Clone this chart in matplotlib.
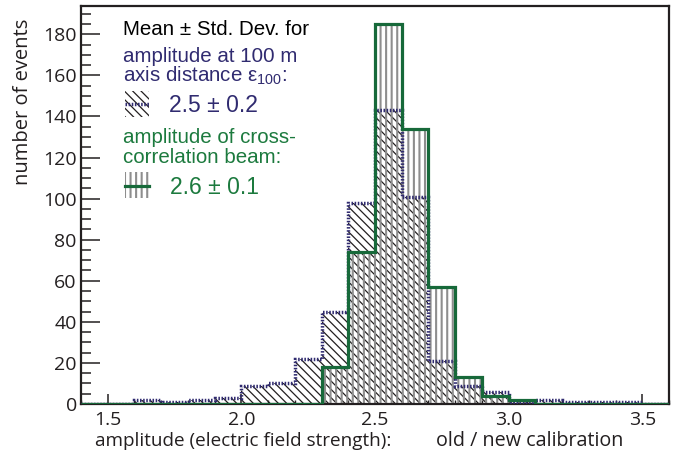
import matplotlib
matplotlib.use("Agg")
import matplotlib.pyplot as plt
from matplotlib.patches import Rectangle
from matplotlib.lines import Line2D
from matplotlib.ticker import MultipleLocator

# bin edges (width 0.1) and counts
bin_edges = [1.4, 1.5, 1.6, 1.7, 1.8, 1.9, 2.0, 2.1, 2.2, 2.3, 2.4, 2.5,
             2.6, 2.7, 2.8, 2.9, 3.0, 3.1, 3.2, 3.3, 3.4, 3.5, 3.6]
counts_eps100 = [0, 0, 2, 1, 2, 3, 9, 10, 22, 45, 98, 143,
                 101, 21, 9, 6, 1, 2, 1, 1, 1, 0]
counts_beam = [0, 0, 0, 0, 0, 0, 0, 0, 0, 18, 74, 185,
               134, 57, 13, 4, 2, 0, 0, 0, 0, 0]
xtick_vals = [1.5, 2.0, 2.5, 3.0, 3.5]
xtick_labels = ["1.5", "2.0", "2.5", "3.0", "3.5"]
ytick_vals = [0, 20, 40, 60, 80, 100, 120, 140, 160, 180]

navy = "#302b70"
green = "#1c7a3e"
green_line = "#17693a"
dark = "#231f20"
hatch_gray = "#8e8e8e"
diag_hatch = "\\" * 4

plt.rcParams["font.family"] = ["Open Sans", "DejaVu Sans"]
plt.rcParams["mathtext.fontset"] = "custom"
plt.rcParams["mathtext.rm"] = "Liberation Sans"
plt.rcParams["mathtext.it"] = "Liberation Sans:italic"

W, H = 683, 455
fig = plt.figure(figsize=(W / 100, H / 100), dpi=100)
ax = fig.add_axes([81 / W, 1 - 404 / H, 588 / W, 398.5 / H])


def hatched_bars(counts, hatch, color, hlw, z):
    with plt.rc_context({"hatch.linewidth": hlw}):
        bars = ax.bar(bin_edges[:-1], counts, width=0.1, align="edge",
                      facecolor="none", edgecolor=color, hatch=hatch,
                      linewidth=0, zorder=z)
    for b in bars:
        if hasattr(b, "set_hatch_linewidth"):
            b.set_hatch_linewidth(hlw)
    return bars


# hatched fills
hatched_bars(counts_eps100, diag_hatch, dark, 0.9, 1)
hatched_bars(counts_beam, "|||", hatch_gray, 1.5, 2)

# outlines
ax.stairs(counts_eps100, bin_edges, baseline=0, color=navy, lw=2.5,
          linestyle=(0, (0.45, 0.45)), zorder=3)
ax.stairs(counts_beam, bin_edges, baseline=0, color=green_line, lw=2.3,
          zorder=4)

ax.set_xlim(1.4, 3.6)
ax.set_ylim(0, 194)
ax.set_xticks(xtick_vals)
ax.set_xticklabels(xtick_labels)
ax.set_yticks(ytick_vals)
ax.xaxis.set_minor_locator(MultipleLocator(0.1))
ax.yaxis.set_minor_locator(MultipleLocator(5))
ax.tick_params(which="both", direction="in", top=False, right=False,
               color=dark, labelcolor=dark)
ax.tick_params(axis="y", which="major", length=13.5, width=1.1, pad=3,
               labelsize=14)
ax.tick_params(axis="y", which="minor", length=7, width=1.1)
ax.tick_params(axis="x", which="major", length=7.5, width=1.1, pad=5,
               labelsize=14)
ax.tick_params(axis="x", which="minor", length=3, width=1)
for s in ax.spines.values():
    s.set_color(dark)
    s.set_linewidth(1.6)

# axis labels
fig.text(23 / W, 1 - 102 / H, "number of events", rotation=90,
         ha="center", va="center", fontsize=14.5, color=dark)
fig.text(95 / W, 1 - 446 / H, "amplitude (electric field strength):",
         ha="left", va="baseline", fontsize=13.6, color=dark)
fig.text(436 / W, 1 - 446 / H, "old / new calibration",
         ha="left", va="baseline", fontsize=14.2, color=dark)


# legend block (axes coords)
def ax_pt(px, py):
    return (px - 81) / 588, (404 - py) / 398.5


leg_font = ["Liberation Sans", "DejaVu Sans"]
x0, _ = ax_pt(123, 0)
ax.text(x0, ax_pt(0, 35)[1], "Mean ± Std. Dev. for", transform=ax.transAxes,
        fontsize=14.8, family=leg_font, color="black", va="baseline")
ax.text(x0, ax_pt(0, 61.7)[1], "amplitude at 100 m", transform=ax.transAxes,
        fontsize=14.8, family=leg_font, color=navy, va="baseline")
ax.text(x0, ax_pt(0, 81.7)[1], "axis distance ε$_{\\mathrm{100}}$:",
        transform=ax.transAxes, fontsize=14.8, family=leg_font, color=navy,
        va="baseline")
ax.text(ax_pt(169, 0)[0], ax_pt(0, 111.7)[1], "2.5 ± 0.2",
        transform=ax.transAxes, fontsize=16.5, family=leg_font, color=navy,
        va="baseline")
ax.text(x0, ax_pt(0, 143.3)[1], "amplitude of cross-", transform=ax.transAxes,
        fontsize=14.8, family=leg_font, color=green, va="baseline")
ax.text(x0, ax_pt(0, 162.7)[1], "correlation beam:", transform=ax.transAxes,
        fontsize=14.8, family=leg_font, color=green, va="baseline")
ax.text(ax_pt(170, 0)[0], ax_pt(0, 194.3)[1], "2.6 ± 0.1",
        transform=ax.transAxes, fontsize=16.5, family=leg_font, color=green,
        va="baseline")

# legend handles
bx0, by0 = ax_pt(125, 117)
bx1, by1 = ax_pt(149, 91)
with plt.rc_context({"hatch.linewidth": 0.9}):
    r1 = Rectangle((bx0, by0), bx1 - bx0, by1 - by0, transform=ax.transAxes,
                   facecolor="none", edgecolor=dark, hatch=diag_hatch,
                   linewidth=0, zorder=5)
if hasattr(r1, "set_hatch_linewidth"):
    r1.set_hatch_linewidth(0.9)
ax.add_patch(r1)
ax.add_line(Line2D([bx0, bx1], [ax_pt(0, 104)[1]] * 2, transform=ax.transAxes,
                   color=navy, lw=2.5, linestyle=(0, (0.45, 0.45)), zorder=6))

gx0, gy0 = ax_pt(125, 198)
gx1, gy1 = ax_pt(149, 172)
with plt.rc_context({"hatch.linewidth": 1.5}):
    r2 = Rectangle((gx0, gy0), gx1 - gx0, gy1 - gy0, transform=ax.transAxes,
                   facecolor="none", edgecolor=hatch_gray, hatch="|||",
                   linewidth=0, zorder=5)
if hasattr(r2, "set_hatch_linewidth"):
    r2.set_hatch_linewidth(1.5)
ax.add_patch(r2)
ax.add_line(Line2D([gx0, gx1], [ax_pt(0, 186)[1]] * 2, transform=ax.transAxes,
                   color=green_line, lw=2.3, zorder=6))

fig.savefig("out.png", dpi=100)
